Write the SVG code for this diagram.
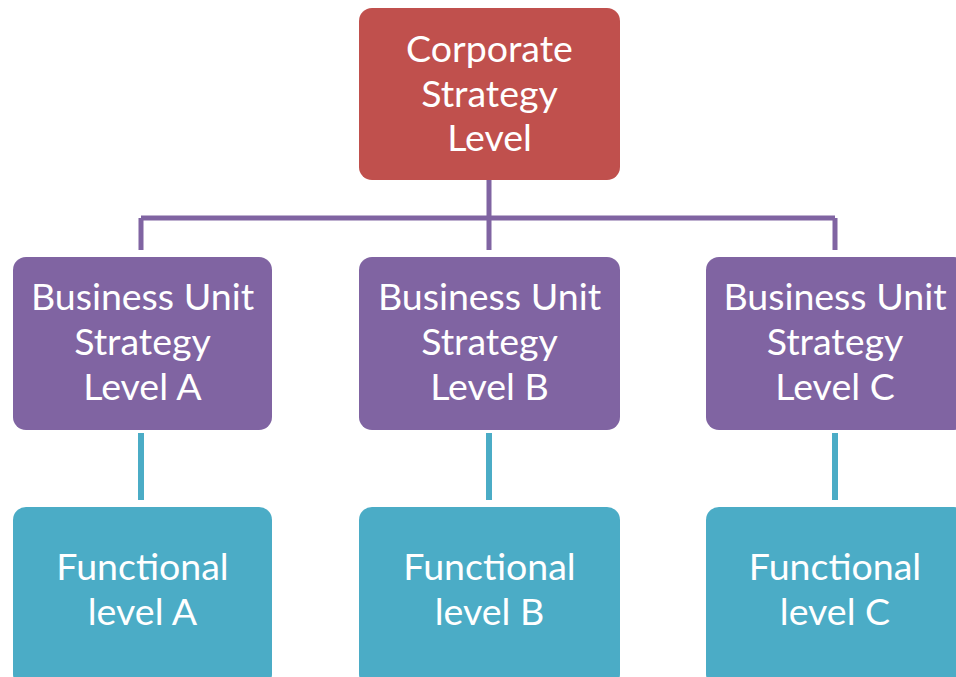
<svg xmlns="http://www.w3.org/2000/svg" width="956" height="677" viewBox="0 0 956 677">
<style>
.t{font-family:Lato,"Open Sans","Liberation Sans",sans-serif;font-size:37.5px;fill:#ffffff;text-anchor:middle}
.red{fill:#C0504D}
.pur{fill:#8064A2}
.teal{fill:#4BACC6}
.cp{stroke:#8064A2;stroke-width:5;fill:none}
.ct{stroke:#4BACC6;stroke-width:6;fill:none}
</style>
<rect width="956" height="677" fill="#ffffff"/>
<g id="connectors">
<path class="cp" d="M489 180V250M141 218H835M141 218V250M835 218V250"/>
<path class="ct" d="M141 433V500M489 433V500M835 433V500"/>
</g>
<g id="corporate">
<rect class="red" x="359" y="8" width="261" height="172" rx="13"/>
<text class="t" x="489.5" y="62">Corporate</text>
<text class="t" x="489.5" y="107">Strategy</text>
<text class="t" x="489.5" y="151">Level</text>
</g>
<g id="buA">
<rect class="pur" x="13" y="257" width="259" height="173" rx="13"/>
<text class="t" x="142.5" y="310">Business Unit</text>
<text class="t" x="142.5" y="355">Strategy</text>
<text class="t" x="142.5" y="400">Level A</text>
</g>
<g id="buB">
<rect class="pur" x="359" y="257" width="261" height="173" rx="13"/>
<text class="t" x="489.5" y="310">Business Unit</text>
<text class="t" x="489.5" y="355">Strategy</text>
<text class="t" x="489.5" y="400">Level B</text>
</g>
<g id="buC">
<rect class="pur" x="706" y="257" width="261" height="173" rx="13"/>
<text class="t" x="835" y="310">Business Unit</text>
<text class="t" x="835" y="355">Strategy</text>
<text class="t" x="835" y="400">Level C</text>
</g>
<g id="fA">
<rect class="teal" x="13" y="507" width="259" height="180" rx="13"/>
<text class="t" x="142.5" y="580">Functional</text>
<text class="t" x="142.5" y="625">level A</text>
</g>
<g id="fB">
<rect class="teal" x="359" y="507" width="261" height="180" rx="13"/>
<text class="t" x="489.5" y="580">Functional</text>
<text class="t" x="489.5" y="625">level B</text>
</g>
<g id="fC">
<rect class="teal" x="706" y="507" width="261" height="180" rx="13"/>
<text class="t" x="835" y="580">Functional</text>
<text class="t" x="835" y="625">level C</text>
</g>
</svg>
